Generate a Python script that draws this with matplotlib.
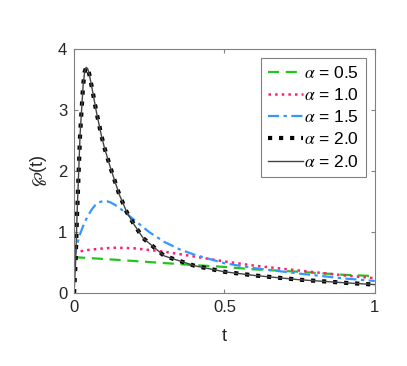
import matplotlib
matplotlib.use('Agg')
import matplotlib.pyplot as plt

plt.rcParams['font.family'] = ['Liberation Sans', 'DejaVu Sans']
plt.rcParams['mathtext.fontset'] = 'stix'

# alpha = 0.5
t05 = [0.0, 0.1, 0.25, 0.4, 0.5, 0.6, 0.75, 0.9, 1.0]
p05 = [0.59, 0.56, 0.51, 0.46, 0.43, 0.39, 0.35, 0.30, 0.28]
# alpha = 1.0
t10 = [0.0, 0.05, 0.1, 0.14, 0.2, 0.3, 0.4, 0.5, 0.6, 0.75, 0.9, 1.0]
p10 = [0.67, 0.71, 0.735, 0.745, 0.735, 0.68, 0.60, 0.52, 0.45, 0.37, 0.29, 0.245]
# alpha = 1.5
t15 = [0.0, 0.01, 0.02, 0.03, 0.04, 0.05, 0.06, 0.07, 0.08, 0.09, 0.1, 0.11, 0.12, 0.135, 0.15, 0.175,
       0.2, 0.25, 0.3, 0.35, 0.4, 0.5, 0.6, 0.75, 0.9, 1.0]
p15 = [0.58, 0.80, 0.97, 1.10, 1.21, 1.30, 1.38, 1.44, 1.48, 1.50, 1.51, 1.505, 1.49, 1.45, 1.40, 1.30,
       1.20, 1.00, 0.84, 0.72, 0.63, 0.49, 0.41, 0.32, 0.24, 0.20]
# alpha = 2.0
t20 = [0.0, 0.005, 0.01, 0.02, 0.03, 0.035, 0.04, 0.045, 0.05, 0.06, 0.073, 0.09, 0.1, 0.12, 0.15, 0.175,
       0.2, 0.23, 0.3, 0.4, 0.5, 0.6, 0.75, 0.9, 1.0]
p20 = [0.0, 0.5, 1.3, 2.6, 3.4, 3.62, 3.7, 3.68, 3.6, 3.35, 3.0, 2.6, 2.4, 2.07, 1.62, 1.33,
       1.12, 0.90, 0.61, 0.45, 0.35, 0.29, 0.22, 0.17, 0.14]

labels = [r'$\alpha$ = 0.5', r'$\alpha$ = 1.0', r'$\alpha$ = 1.5', r'$\alpha$ = 2.0', r'$\alpha$ = 2.0']

fig = plt.figure(figsize=(4.07, 3.66), dpi=100)
ax = fig.add_axes([0.182, 0.199, 0.739, 0.667])

ax.plot(t05, p05, '--', color='#22c41e', lw=1.6, dashes=(5, 3), label=labels[0])
ax.plot(t10, p10, ':', color='#ff1f6a', lw=1.8, label=labels[1])
ax.plot(t15, p15, '-.', color='#3399ff', lw=1.6, dashes=(5, 2, 1.5, 2), label=labels[2])
ax.plot(t20, p20, ':', color='black', lw=3, label=labels[3])
ax.plot(t20, p20, '-', color='#444444', lw=1.0, label=labels[4])

ax.set_xlim(0, 1)
ax.set_ylim(0, 4)
ax.set_xticks([0, 0.5, 1])
ax.set_xticklabels(['0', '0.5', '1'])
ax.set_yticks([0, 1, 2, 3, 4])
ax.tick_params(direction='in', top=True, right=True, labelsize=12, length=3,
               color='#808080', labelcolor='#262626', pad=5)
for s in ax.spines.values():
    s.set_color('#808080')
    s.set_linewidth(0.8)

ax.set_xlabel('t', fontsize=13, color='#262626', labelpad=9)
ax.set_ylabel(r'$\wp$(t)', fontsize=13, color='#262626', labelpad=6)

leg = ax.legend(loc='upper right', fontsize=12.5, handlelength=2.0, handletextpad=0.1,
                borderpad=0.4, labelspacing=0.36, fancybox=False, framealpha=1,
                borderaxespad=0.5)
leg.get_frame().set_edgecolor('#808080')
leg.get_frame().set_linewidth(0.8)

plt.savefig('out.png', dpi=100)
